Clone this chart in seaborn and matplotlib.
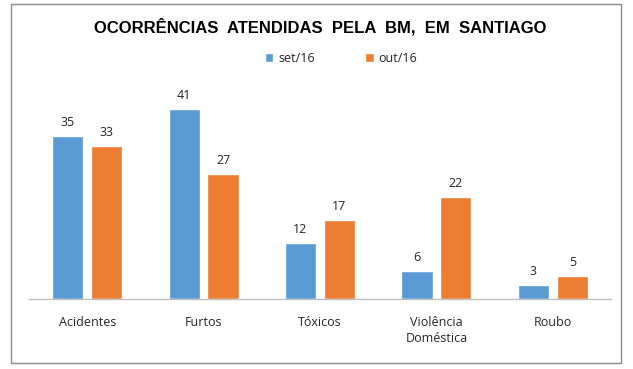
import pandas as pd
import matplotlib.pyplot as plt
import seaborn as sns
from matplotlib.patches import Rectangle

# Chart data
categories = ["Acidentes", "Furtos", "Tóxicos", "Violência\nDoméstica", "Roubo"]
set16 = [35, 41, 12, 6, 3]
out16 = [33, 27, 17, 22, 5]
series_names = ["set/16", "out/16"]

df = pd.DataFrame({
    "categoria": categories * 2,
    "mes": [series_names[0]] * 5 + [series_names[1]] * 5,
    "valor": set16 + out16,
})

sns.set_style("white")
plt.rcParams["font.family"] = ["Open Sans", "DejaVu Sans"]
txt = "#262626"

fig = plt.figure(figsize=(6.33, 3.69), dpi=100)
ax = fig.add_axes([29 / 633, (369 - 299) / 369, 582 / 633, 209 / 369])

sns.barplot(data=df, x="categoria", y="valor", hue="mes", ax=ax,
            palette=["#5B9BD5", "#ED7D31"], width=0.67, gap=0.2,
            saturation=1, legend=True)

for cont in ax.containers:
    ax.bar_label(cont, padding=5, fontsize=9, color=txt)

ax.set_ylim(0, 45)
ax.set_xlim(-0.5, 4.5)
ax.set_xlabel("")
ax.set_ylabel("")
ax.set_yticks([])
ax.tick_params(axis="x", length=0, pad=12, labelsize=9, labelcolor=txt)
for lbl in ax.get_xticklabels():
    lbl.set_linespacing(1.35)
for s in ["top", "right", "left"]:
    ax.spines[s].set_visible(False)
ax.spines["bottom"].set_color("#BFBFBF")
ax.spines["bottom"].set_linewidth(1)

leg = ax.legend(loc="center", bbox_to_anchor=(341 / 633, (369 - 58) / 369),
                bbox_transform=fig.transFigure, ncol=2, frameon=False,
                fontsize=9, handlelength=0.7, handleheight=0.7,
                handletextpad=0.4, columnspacing=4.0)
for t in leg.get_texts():
    t.set_color(txt)

fig.text(320 / 633, (369 - 27) / 369, "OCORRÊNCIAS  ATENDIDAS  PELA  BM,  EM  SANTIAGO",
         ha="center", va="center", fontsize=12, fontweight="bold", color="black",
         family=["Liberation Sans", "DejaVu Sans"])

fig.patches.append(Rectangle((11 / 633, 6 / 369), 610 / 633, 359 / 369,
                             transform=fig.transFigure, fill=False,
                             edgecolor="#8C8C8C", linewidth=1))

fig.savefig("out.png", dpi=100)
